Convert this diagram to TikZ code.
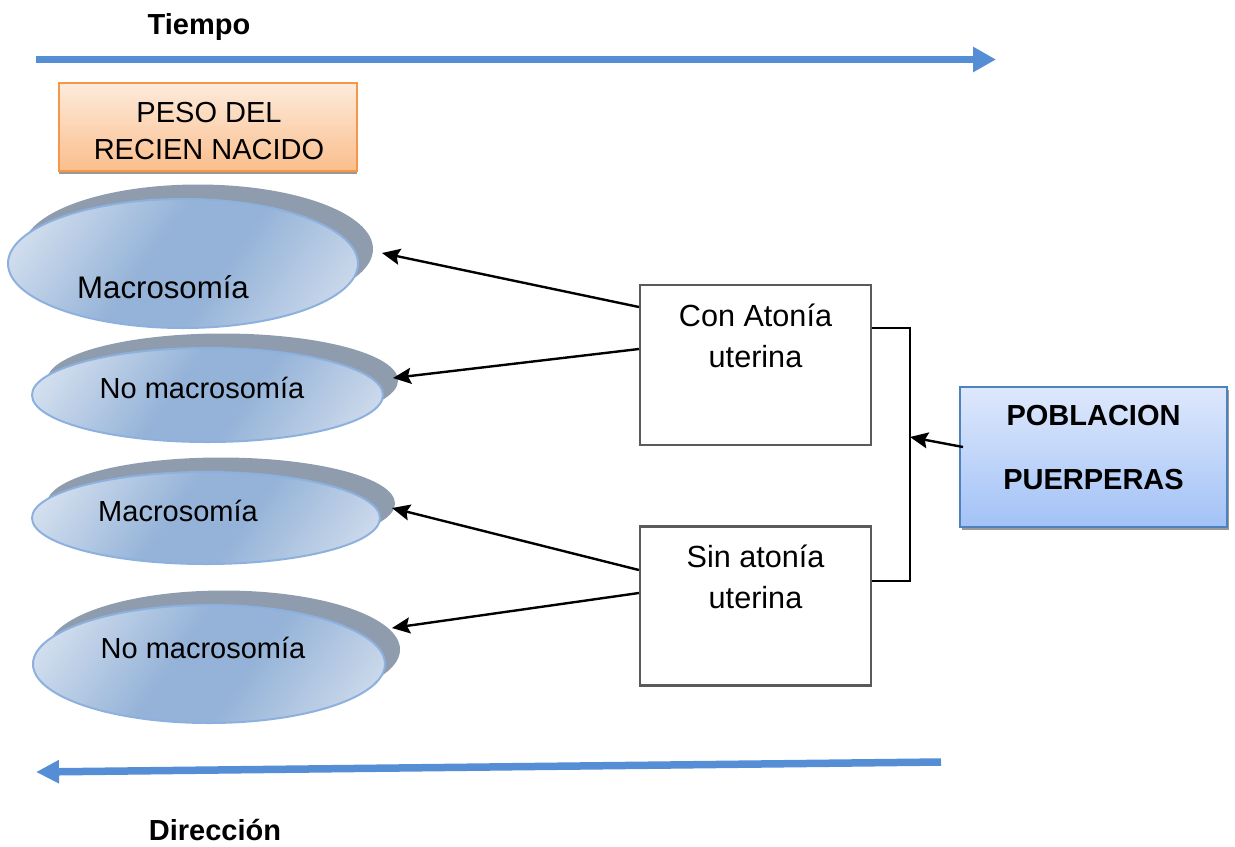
\documentclass[tikz,border=0pt]{standalone}
\usepackage{fontspec}
\setmainfont{Liberation Sans}
\usetikzlibrary{arrows.meta,shadows,shapes.geometric}
\definecolor{arrblue}{RGB}{85,142,213}
\definecolor{shgray}{RGB}{143,156,174}
\definecolor{ellLight}{RGB}{218,228,241}
\definecolor{ellDark}{RGB}{149,179,216}
\definecolor{ellLight2}{RGB}{212,223,238}
\definecolor{ellBorder}{RGB}{141,177,222}
\definecolor{pesoTop}{RGB}{253,235,220}
\definecolor{pesoBot}{RGB}{250,190,140}
\definecolor{pesoBorder}{RGB}{247,150,70}
\definecolor{pobTop}{RGB}{222,232,252}
\definecolor{pobBot}{RGB}{162,194,246}
\definecolor{pobBorder}{RGB}{79,129,189}
\definecolor{boxBorder}{RGB}{90,90,90}
\pgfdeclareverticalshading{ellshade}{100bp}{color(0bp)=(ellLight2); color(17bp)=(ellLight2); color(43bp)=(ellDark); color(56bp)=(ellDark); color(82bp)=(ellLight); color(100bp)=(ellLight)}
\tikzset{
  txt/.style={inner sep=0pt, anchor=base, font=\fontsize{14.5pt}{17pt}\selectfont},
  btxt/.style={txt, font=\fontsize{14.5pt}{17pt}\selectfont\bfseries},
  wtxt/.style={txt, font=\fontsize{15.3pt}{18pt}\selectfont},
  ell/.style={ellipse, draw=ellBorder, line width=1pt, inner sep=0pt,
    shading=ellshade, shading angle=55,
    drop shadow={shadow xshift=7.5pt, shadow yshift=7.25pt, opacity=1, fill=shgray}},
  wbox/.style={rectangle, draw=boxBorder, line width=1.1pt, fill=white,
    minimum width=115.5pt, minimum height=80pt, inner sep=0pt},
  conn/.style={line width=1.2pt, -{Stealth[length=9pt,width=8pt,inset=1.5pt]}},
  bline/.style={line width=1pt},
  bigarr/.style={draw=arrblue, line width=3.75pt, -{Triangle[length=11.5pt,width=12pt]}, arrblue},
}
\begin{document}
\begin{tikzpicture}[x=0.5pt,y=-0.5pt]
\useasboundingbox (0,0) rectangle (1235,846);
% time arrows
\coordinate (ta) at (36,59.5);
\coordinate (tb) at (996,59.5);
\draw[bigarr] (ta) -- (tb);
\node[btxt] (tiempo) at (199,34) {Tiempo};
\coordinate (da) at (941,762);
\coordinate (db) at (36,772);
\draw[bigarr, -{Triangle[length=11.5pt,width=11pt]}] (da) -- (db);
\node[btxt] (direccion) at (215,840) {Dirección};
% peso box
\node[rectangle, draw=pesoBorder, line width=0.9pt, top color=pesoTop, bottom color=pesoBot,
  minimum width=149pt, minimum height=44pt, inner sep=0pt,
  drop shadow={shadow xshift=0pt, shadow yshift=-1.6pt, opacity=1, fill=black!40}] (peso) at (208,127) {};
\node[txt] (peso1) at (209,122) {PESO DEL};
\node[txt] (peso2) at (209,159) {RECIEN NACIDO};
% ellipses
\node[ell, minimum width=175pt, minimum height=64.5pt] (e1) at (183,263.5) {};
\node[txt, font=\fontsize{15.6pt}{18pt}\selectfont] (e1t) at (163,298) {Macrosomía};
\node[ell, minimum width=175.5pt, minimum height=47pt] (e2) at (207.5,395) {};
\node[txt] (e2t) at (202,398) {No macrosomía};
\node[ell, minimum width=174pt, minimum height=46pt] (e3) at (206,518) {};
\node[txt] (e3t) at (178,521) {Macrosomía};
\node[ell, minimum width=176pt, minimum height=59pt] (e4) at (209,664) {};
\node[txt] (e4t) at (203,658) {No macrosomía};
% white boxes
\node[wbox] (A) at (755.5,365) {};
\node[wtxt] (A1) at (755.5,326) {Con Atonía};
\node[wtxt] (A2) at (755.5,367) {uterina};
\node[wbox, minimum height=79.5pt] (B) at (755.5,606) {};
\node[wtxt] (B1) at (755.5,567) {Sin atonía};
\node[wtxt] (B2) at (755.5,608) {uterina};
% poblacion box
\node[rectangle, draw=pobBorder, line width=0.9pt, top color=pobTop, bottom color=pobBot,
  minimum width=133.5pt, minimum height=70pt, inner sep=0pt,
  drop shadow={shadow xshift=1pt, shadow yshift=-1.6pt, opacity=1, fill=black!40}] (P) at (1093.5,457) {};
\node[btxt] (P1) at (1093.5,425) {POBLACION};
\node[btxt] (P2) at (1093.5,489) {PUERPERAS};
% bracket
\coordinate (bt) at (910,327.5);
\coordinate (bb) at (910,581);
\draw[bline] (A.east |- bt) -- (bt) -- (bb) -- (B.east |- bb);
\coordinate (ps) at (963,447);
\coordinate (pt) at (910,437);
\draw[conn] (ps) -- (pt);
% connectors to ellipses
\coordinate (s1) at (640,307);
\coordinate (t1) at (382,253);
\coordinate (s2) at (640,349);
\coordinate (t2) at (393,378);
\coordinate (s3) at (640,570);
\coordinate (t3) at (392,508);
\coordinate (s4) at (640,593);
\coordinate (t4) at (392,628);
\draw[conn] (A.west |- s1) -- (t1);
\draw[conn] (A.west |- s2) -- (t2);
\draw[conn] (B.west |- s3) -- (t3);
\draw[conn] (B.west |- s4) -- (t4);
\end{tikzpicture}
\end{document}
